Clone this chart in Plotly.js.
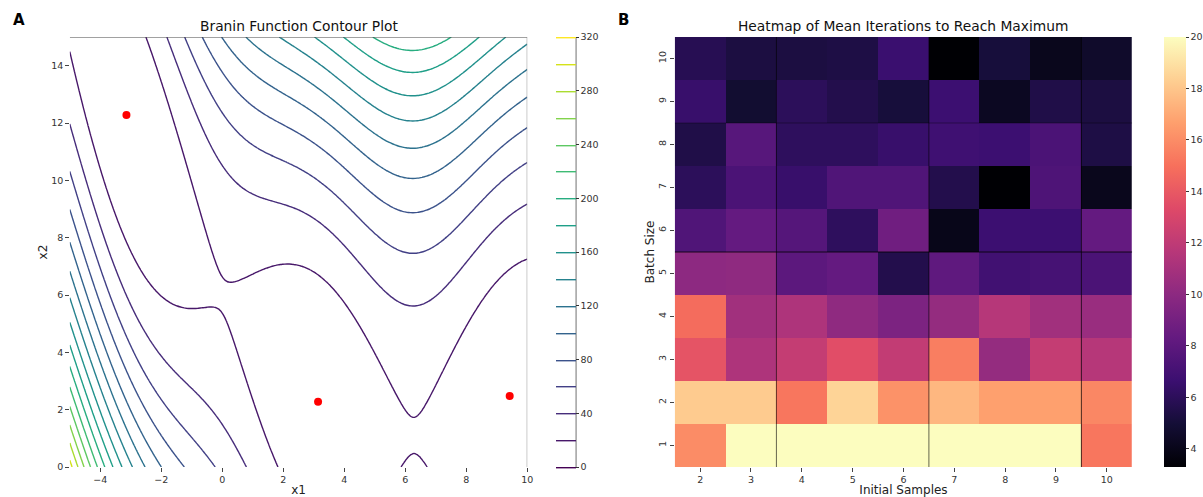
<!DOCTYPE html>
<html>
<head>
<meta charset="utf-8">
<script src="https://cdn.plot.ly/plotly-3.0.1.min.js"></script>
<style>html,body{margin:0;padding:0;background:#fff;}#chart{width:1203px;height:497px;}</style>
</head>
<body>
<div id="chart"></div>
<script>
// ---- Panel A: Branin function ----
const x1Grid = [];
const x2Grid = [];
for (let i = 0; i <= 200; i++) { x1Grid.push(-5 + 15 * i / 200); x2Grid.push(15 * i / 200); }
function branin(x1, x2) {
  const a = 1, b = 5.1 / (4 * Math.PI * Math.PI), c = 5 / Math.PI, r = 6, s = 10, t = 1 / (8 * Math.PI);
  return a * Math.pow(x2 - b * x1 * x1 + c * x1 - r, 2) + s * (1 - t) * Math.cos(x1) + s;
}
const braninZ = x2Grid.map(y => x1Grid.map(x => branin(x, y)));
const minimaX1 = [-Math.PI, Math.PI, 9.42478];
const minimaX2 = [12.275, 2.275, 2.475];

// ---- Panel B: heatmap ----
const initialSamples = [2, 3, 4, 5, 6, 7, 8, 9, 10];
const batchSizes = [1, 2, 3, 4, 5, 6, 7, 8, 9, 10];
const meanIterations = [
  [16.0, 20.0, 20.0, 20.0, 20.0, 20.0, 20.0, 20.0, 15.2], // batch 1
  [18.2, 18.2, 15.2, 18.5, 16.2, 17.5, 16.7, 16.7, 15.8], // batch 2
  [13.8, 11.3, 12.2, 13.5, 12.1, 15.5, 10.3, 12.2, 11.6], // batch 3
  [14.8, 10.8, 11.3, 10.1, 9.3, 10.3, 11.6, 10.8, 10.5],  // batch 4
  [10.0, 10.1, 8.0, 8.3, 5.6, 8.1, 6.9, 7.1, 7.3],        // batch 5
  [7.5, 8.3, 7.7, 6.1, 8.8, 4.0, 6.7, 6.7, 8.3],          // batch 6
  [6.0, 7.3, 6.5, 7.5, 7.5, 5.6, 3.3, 7.4, 4.1],          // batch 7
  [5.5, 7.8, 6.1, 6.1, 6.5, 6.8, 6.7, 7.3, 5.4],          // batch 8
  [6.5, 4.8, 6.0, 5.6, 5.1, 6.7, 4.3, 5.5, 5.3],          // batch 9
  [5.8, 5.3, 5.3, 5.4, 6.6, 3.3, 5.1, 4.1, 4.6]           // batch 10
];
const heatTicks = [4, 6, 8, 10, 12, 14, 16, 18, 20];

const magma = [
  [0.0, '#000004'], [0.1, '#140e36'], [0.2, '#3b0f70'], [0.3, '#641a80'],
  [0.4, '#8c2981'], [0.5, '#b73779'], [0.6, '#de4968'], [0.7, '#f7705c'],
  [0.8, '#fe9f6d'], [0.9, '#fecf92'], [1.0, '#fcfdbf']
];

const W = 1203, H = 497;
const px = v => v / W;
const py = v => 1 - v / H;
const yDom = [py(467), py(37)];
const FONT = 'DejaVu Sans, sans-serif';
const tickFont = {family: FONT, size: 9.5, color: '#333'};

const traces = [
  {
    type: 'contour', x: x1Grid, y: x2Grid, z: braninZ,
    xaxis: 'x', yaxis: 'y',
    colorscale: 'Viridis', zmin: 0, zmax: 320,
    autocontour: false,
    contours: {start: 0, end: 320, size: 20, coloring: 'lines', showlabels: false},
    line: {width: 1.4, smoothing: 1},
    hoverinfo: 'skip',
    colorbar: {
      x: px(558), xanchor: 'left', xpad: 0, ypad: 0,
      y: (yDom[0] + yDom[1]) / 2, yanchor: 'middle', len: yDom[1] - yDom[0], lenmode: 'fraction',
      thickness: 20, thicknessmode: 'pixels',
      tickmode: 'linear', tick0: 0, dtick: 40,
      ticks: 'outside', ticklen: 3, tickcolor: '#333', tickfont: tickFont,
      outlinewidth: 0
    }
  },
  {
    type: 'scatter', mode: 'markers', x: minimaX1, y: minimaX2,
    xaxis: 'x', yaxis: 'y',
    marker: {color: '#ff0000', size: 8}, showlegend: false, hoverinfo: 'skip'
  },
  {
    type: 'heatmap', x: initialSamples, y: batchSizes, z: meanIterations,
    xaxis: 'x2', yaxis: 'y2',
    colorscale: magma, zmin: 3.3, zmax: 20,
    hoverinfo: 'skip',
    colorbar: {
      x: px(1168), xanchor: 'left', xpad: 0, ypad: 0,
      y: (yDom[0] + yDom[1]) / 2, yanchor: 'middle', len: yDom[1] - yDom[0], lenmode: 'fraction',
      thickness: 22, thicknessmode: 'pixels',
      tickmode: 'array', tickvals: heatTicks, ticktext: heatTicks.map(String),
      ticks: 'outside', ticklen: 3, tickcolor: '#333', tickfont: tickFont,
      outlinewidth: 0
    }
  }
];

const shapes = [
  // panel A spines
  {type: 'line', xref: 'x', yref: 'y', x0: -5, x1: 10, y0: 15, y1: 15, line: {color: '#444', width: 1}},
  {type: 'line', xref: 'x', yref: 'y', x0: 10, x1: 10, y0: 0, y1: 15, line: {color: '#888', width: 1}},
  // colorbar A right spine
  {type: 'line', xref: 'paper', yref: 'paper', x0: px(578), x1: px(578), y0: yDom[0], y1: yDom[1], line: {color: '#888', width: 1.2}},
  // panel B separating lines
  {type: 'line', xref: 'x2', yref: 'y2', x0: 3.5, x1: 3.5, y0: 0.5, y1: 10.5, line: {color: 'rgba(0,0,0,0.6)', width: 1}},
  {type: 'line', xref: 'x2', yref: 'y2', x0: 6.5, x1: 6.5, y0: 0.5, y1: 10.5, line: {color: 'rgba(0,0,0,0.6)', width: 1}},
  {type: 'line', xref: 'x2', yref: 'y2', x0: 9.5, x1: 9.5, y0: 0.5, y1: 10.5, line: {color: 'rgba(0,0,0,0.7)', width: 1}},
  {type: 'line', xref: 'x2', yref: 'y2', x0: 1.5, x1: 10.5, y0: 5.5, y1: 5.5, line: {color: 'rgba(0,0,0,0.8)', width: 1}},
  {type: 'line', xref: 'x2', yref: 'y2', x0: 1.5, x1: 10.5, y0: 8.5, y1: 8.5, line: {color: 'rgba(0,0,0,0.35)', width: 1}}
];

const annotations = [
  {text: '<b>A</b>', xref: 'paper', yref: 'paper', x: px(11), y: py(20), xanchor: 'left', yanchor: 'middle', showarrow: false, font: {family: FONT, size: 15, color: '#000'}},
  {text: '<b>B</b>', xref: 'paper', yref: 'paper', x: px(618), y: py(20), xanchor: 'left', yanchor: 'middle', showarrow: false, font: {family: FONT, size: 15, color: '#000'}},
  {text: 'Branin Function Contour Plot', xref: 'paper', yref: 'paper', x: px(300), y: py(26), xanchor: 'center', yanchor: 'middle', showarrow: false, font: {family: FONT, size: 13.8, color: '#111'}},
  {text: 'Heatmap of Mean Iterations to Reach Maximum', xref: 'paper', yref: 'paper', x: px(906), y: py(26), xanchor: 'center', yanchor: 'middle', showarrow: false, font: {family: FONT, size: 13.8, color: '#111'}}
];

const axisCommon = {
  showgrid: false, zeroline: false, showline: false,
  ticks: 'outside', ticklen: 3.5, tickcolor: '#444', tickwidth: 1,
  tickfont: tickFont
};

const layout = {
  width: W, height: H,
  margin: {l: 0, r: 0, t: 0, b: 0},
  paper_bgcolor: '#fff', plot_bgcolor: '#fff',
  showlegend: false,
  font: {family: FONT},
  xaxis: Object.assign({}, axisCommon, {
    domain: [px(70), px(529)], range: [-5, 10], tickvals: [-4, -2, 0, 2, 4, 6, 8, 10],
    anchor: 'y', title: {text: 'x1', font: {family: FONT, size: 12, color: '#222'}, standoff: 4}
  }),
  yaxis: Object.assign({}, axisCommon, {
    domain: yDom, range: [0, 15], tickvals: [0, 2, 4, 6, 8, 10, 12, 14],
    anchor: 'x', title: {text: 'x2', font: {family: FONT, size: 12, color: '#222'}, standoff: 1}
  }),
  xaxis2: Object.assign({}, axisCommon, {
    domain: [px(677), px(1136)], range: [1.5, 10.5], tickvals: initialSamples, ticktext: initialSamples.map(String),
    anchor: 'y2', title: {text: 'Initial Samples', font: {family: FONT, size: 12, color: '#222'}, standoff: 4}
  }),
  yaxis2: Object.assign({}, axisCommon, {
    domain: yDom, range: [0.5, 10.5], tickvals: batchSizes, ticktext: batchSizes.map(String), tickangle: -90,
    anchor: 'x2', title: {text: 'Batch Size', font: {family: FONT, size: 12, color: '#222'}, standoff: 0}
  }),
  shapes: shapes,
  annotations: annotations
};

Plotly.newPlot('chart', traces, layout, {displayModeBar: false, staticPlot: true});
</script>
</body>
</html>
